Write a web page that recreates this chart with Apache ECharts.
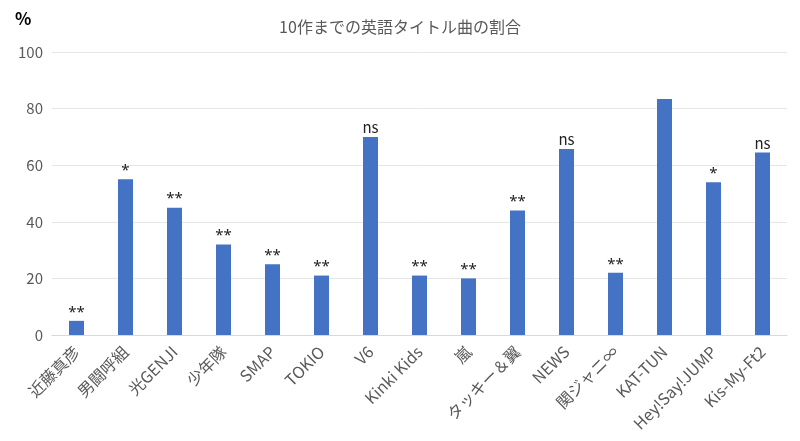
<!DOCTYPE html>
<html><head><meta charset="utf-8">
<script src="https://cdn.jsdelivr.net/npm/echarts@6/dist/echarts.min.js"></script>
<style>html,body{margin:0;padding:0;background:#fff}#c{width:800px;height:441px}</style>
</head><body><div id="c"></div>
<script>
const categories = ['近藤真彦','男闘呼組','光GENJI','少年隊','SMAP','TOKIO','V6','Kinki Kids','嵐','タッキー＆翼','NEWS','関ジャニ∞','KAT-TUN','Hey!Say!JUMP','Kis-My-Ft2'];
const values = [5,55,45,32,25,21,70,21,20,44,65.7,22,83.4,54,64.5];
const marks = ['**','*','**','**','**','**','ns','**','**','**','ns','**','','*','ns'];
const yTicks = [0,20,40,60,80,100];

const font = '"Noto Sans CJK JP", "Noto Sans", sans-serif';
const seriesData = values.map((v,i)=>{
  const star = marks[i].indexOf('*')>=0;
  return {value:v, label: star
    ? {fontSize:15, distance:1, letterSpacing:2, fontFamily:'"Noto Sans", sans-serif'}
    : {fontSize:15, distance:2}};
});
const chart = echarts.init(document.getElementById('c'));
chart.setOption({
  animation:false,
  textStyle:{fontFamily:font},
  title:{text:'10作までの英語タイトル曲の割合',left:'center',top:14,
    textStyle:{fontSize:16,fontWeight:'normal',color:'#595959',fontFamily:font}},
  graphic:[{type:'text',left:15,top:10,style:{text:'%',fontSize:17,fontWeight:'bold',fill:'#000',fontFamily:font}}],
  grid:{left:52,right:13,top:52,bottom:106,containLabel:false},
  xAxis:{type:'category',data:categories,
    axisLine:{lineStyle:{color:'#d9d9d9'}},axisTick:{show:false},
    axisLabel:{rotate:45,interval:0,margin:14,fontSize:16,color:'#595959',fontFamily:font}},
  yAxis:{type:'value',min:yTicks[0],max:yTicks[yTicks.length-1],interval:20,
    axisLine:{show:false},axisTick:{show:false},
    splitLine:{lineStyle:{color:'#e6e6e6'}},
    axisLabel:{fontSize:15,color:'#595959',margin:9,fontFamily:font}},
  series:[{type:'bar',data:seriesData,barWidth:15,
    itemStyle:{color:'#4472C4'},
    label:{show:true,position:'top',distance:3,fontSize:14,color:'#222',fontFamily:font,
      formatter:p=>marks[p.dataIndex]}}]
});
</script></body></html>
